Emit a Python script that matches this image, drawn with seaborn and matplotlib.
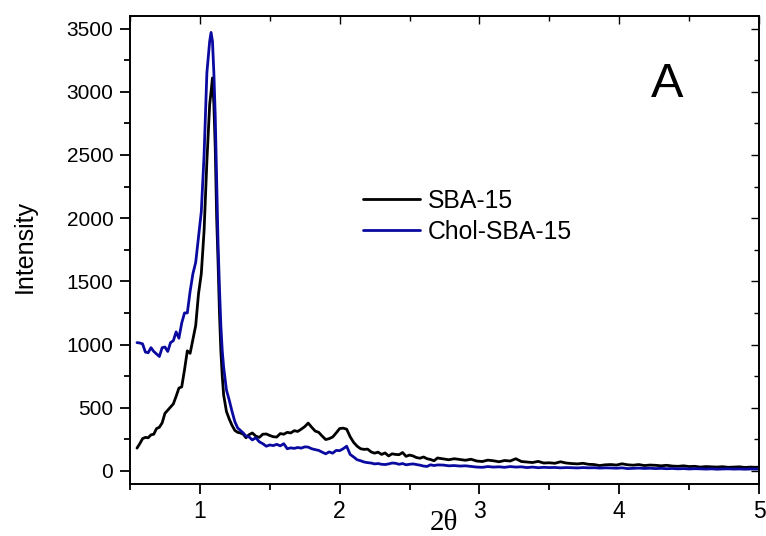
import numpy as np
import pandas as pd
import matplotlib
matplotlib.use("Agg")
import matplotlib.pyplot as plt
import seaborn as sns
from matplotlib.ticker import MultipleLocator

# ---- data ----
two_theta = [
    0.55, 0.57, 0.59, 0.61, 0.63, 0.65, 0.67, 0.69, 0.71, 0.73, 0.75, 0.77, 0.79, 0.81, 0.83,
    0.85, 0.87, 0.89, 0.91, 0.93, 0.95, 0.97, 0.99, 1.01, 1.03, 1.05, 1.07, 1.08, 1.09, 1.10,
    1.11, 1.12, 1.13, 1.14, 1.15, 1.16, 1.17, 1.19, 1.21, 1.23, 1.25, 1.27, 1.29, 1.31, 1.33,
    1.35, 1.375, 1.40, 1.425, 1.45, 1.475, 1.50, 1.525, 1.55, 1.575, 1.60, 1.625, 1.65, 1.675,
    1.70, 1.725, 1.75, 1.775, 1.80, 1.825, 1.85, 1.875, 1.90, 1.925, 1.95, 1.975, 2.00, 2.025,
    2.05, 2.075, 2.10, 2.125, 2.15, 2.175, 2.20, 2.225, 2.25, 2.275, 2.30, 2.325, 2.35, 2.375,
    2.40, 2.425, 2.45, 2.475, 2.50, 2.525, 2.55, 2.575, 2.60, 2.625, 2.65, 2.675, 2.70,
    2.74, 2.78, 2.82, 2.86, 2.90, 2.94, 2.98, 3.02, 3.06, 3.10, 3.14, 3.18, 3.22, 3.26, 3.30,
    3.34, 3.38, 3.42, 3.46, 3.50, 3.54, 3.58, 3.62, 3.66, 3.70, 3.74, 3.78, 3.82, 3.86, 3.90,
    3.94, 3.98, 4.02, 4.06, 4.10, 4.14, 4.18, 4.22, 4.26, 4.30, 4.34, 4.38, 4.42, 4.46, 4.50,
    4.54, 4.58, 4.62, 4.66, 4.70, 4.74, 4.78, 4.82, 4.86, 4.90, 4.94, 4.98, 5.00,
]

sba15 = [
    180, 215, 255, 265, 262, 285, 290, 335, 345, 380, 455, 480, 505, 530, 590,
    655, 665, 800, 950, 930, 1040, 1150, 1400, 1560, 1900, 2450, 2900, 3000, 3110, 2900,
    2550, 2000, 1650, 1250, 950, 750, 600, 470, 410, 360, 320, 305, 300, 290, 262,
    285, 300, 275, 265, 290, 292, 280, 270, 268, 295, 290, 305, 300, 318,
    312, 330, 350, 378, 345, 315, 305, 275, 248, 255, 268, 300, 335, 338,
    330, 270, 225, 195, 175, 170, 172, 150, 140, 148, 130, 142, 118, 135,
    130, 128, 145, 115, 125, 118, 105, 100, 110, 96, 90, 80, 102,
    95, 88, 96, 90, 84, 92, 78, 74, 85, 80, 72, 82, 78, 96, 74,
    70, 66, 75, 62, 64, 60, 72, 62, 58, 55, 60, 52, 50, 42, 48,
    50, 46, 56, 48, 45, 50, 42, 46, 44, 40, 44, 38, 36, 40, 34,
    36, 30, 34, 32, 30, 33, 28, 30, 32, 27, 30, 28, 30,
]

chol_sba15 = [
    1015, 1012, 1005, 940, 935, 975, 945, 925, 905, 975, 980, 945, 1015, 1030, 1100,
    1050, 1170, 1250, 1250, 1420, 1560, 1650, 1850, 2050, 2500, 3150, 3400, 3470, 3400, 3150,
    2800, 2300, 1800, 1450, 1150, 950, 820, 640, 560, 470, 390, 340, 320, 300, 275,
    270, 245, 262, 230, 215, 195, 205, 200, 210, 198, 215, 175, 182, 178,
    185, 180, 190, 188, 175, 168, 162, 148, 135, 150, 140, 162, 160, 175,
    195, 130, 110, 88, 80, 70, 65, 62, 55, 58, 52, 50, 55, 62,
    60, 52, 58, 48, 52, 55, 50, 45, 38, 35, 48, 42, 47,
    46, 40, 42, 38, 40, 35, 30, 28, 34, 30, 32, 28, 34, 30, 32,
    26, 30, 25, 28, 26, 27, 24, 26, 25, 23, 26, 24, 25, 22, 24,
    23, 21, 24, 18, 20, 22, 19, 21, 18, 20, 17, 19, 16, 18, 15,
    17, 16, 14, 16, 13, 15, 16, 14, 15, 13, 15, 14, 16,
]

series_names = ["SBA-15", "Chol-SBA-15"]
series_colors = ["#000000", "#0a0aa0"]
x_ticks = [1, 2, 3, 4, 5]
y_ticks = [0, 500, 1000, 1500, 2000, 2500, 3000, 3500]

df = pd.DataFrame({
    "two_theta": two_theta * 2,
    "intensity": sba15 + chol_sba15,
    "sample": [series_names[0]] * len(two_theta) + [series_names[1]] * len(two_theta),
})

# ---- style ----
sns.set_style("white")
plt.rcParams["font.family"] = ["Liberation Sans", "DejaVu Sans"]
plt.rcParams["text.color"] = "black"
plt.rcParams["axes.labelcolor"] = "black"
plt.rcParams["xtick.color"] = "black"
plt.rcParams["ytick.color"] = "black"

fig = plt.figure(figsize=(7.66, 5.36), dpi=100)
ax = fig.add_axes([130 / 766, 1 - 483.5 / 536, 629 / 766, (483.5 - 16) / 536])

sns.lineplot(data=df, x="two_theta", y="intensity", hue="sample",
             hue_order=series_names, palette=series_colors,
             linewidth=2.0, ax=ax, estimator=None, sort=False)

ax.set_xlim(0.5, 5.0)
ax.set_ylim(-100, 3600)
ax.set_xticks(x_ticks)
ax.set_yticks(y_ticks)
ax.xaxis.set_minor_locator(MultipleLocator(0.5))
ax.yaxis.set_minor_locator(MultipleLocator(250))

for sp in ax.spines.values():
    sp.set_visible(True)
    sp.set_color("black")
    sp.set_linewidth(1.4)

ax.tick_params(axis="both", which="major", direction="out", length=7, width=1.3,
               color="black", labelcolor="black",
               top=False, right=False, left=True, bottom=True)
ax.tick_params(axis="both", which="minor", direction="out", length=4, width=1.3,
               color="black", top=False, right=False, left=True, bottom=True)
ax.tick_params(axis="y", which="major", labelsize=15, pad=5)
ax.tick_params(axis="x", which="major", labelsize=16.5, pad=5)

# inward ticks on top and right
secx = ax.secondary_xaxis("top")
secx.set_xticks(x_ticks)
secx.xaxis.set_minor_locator(MultipleLocator(0.5))
secx.tick_params(which="major", direction="in", length=6, width=1.0, labeltop=False,
                 color="black", top=True)
secx.tick_params(which="minor", direction="in", length=3.5, width=1.0, color="black", top=True)
secx.spines["top"].set_visible(False)
secy = ax.secondary_yaxis("right")
secy.set_yticks(y_ticks)
secy.yaxis.set_minor_locator(MultipleLocator(250))
secy.tick_params(which="major", direction="in", length=6, width=1.0, labelright=False,
                 color="black", right=True)
secy.tick_params(which="minor", direction="in", length=3.5, width=1.0, color="black", right=True)
secy.spines["right"].set_visible(False)

ax.set_ylabel("Intensity", fontsize=18, color="black")
ax.yaxis.set_label_coords(-0.149, 0.508)
ax.set_xlabel("2θ", fontsize=21, color="black", family=["Liberation Serif", "DejaVu Serif"])
ax.xaxis.set_label_coords(0.499, -0.056)

ax.text(4.343, 2959, "A", fontsize=35, ha="center", va="baseline", color="black")

leg = ax.legend(frameon=False, loc="upper left", bbox_to_anchor=(363 / 766, 1 - 189 / 536),
                bbox_transform=fig.transFigure, fontsize=17.8, handlelength=2.3,
                handletextpad=0.33, borderpad=0, borderaxespad=0, labelspacing=0.28)
for line in leg.get_lines():
    line.set_linewidth(2.0)
for t in leg.get_texts():
    t.set_color("black")

fig.savefig("out.png", dpi=100)
